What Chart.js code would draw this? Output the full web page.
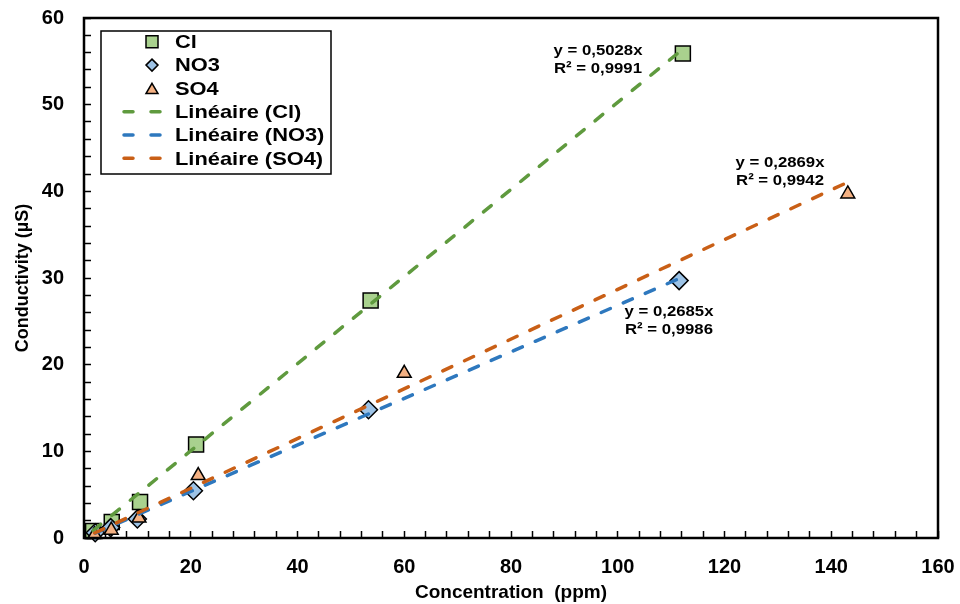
<!DOCTYPE html>
<html>
<head>
<meta charset="utf-8">
<script src="https://cdn.jsdelivr.net/npm/chart.js@4/dist/chart.umd.min.js"></script>
<style>
  html, body { margin: 0; padding: 0; background: #fff; }
</style>
</head>
<body>
<canvas id="conductivity" width="960" height="604"></canvas>
<script>
// measured points (ppm -> µS)
const clX  = [1.7, 5.2, 10.5, 21.0, 53.7, 112.2];
const clY  = [0.8, 1.85, 4.15, 10.8, 27.4, 55.9];
const no3X = [2.1, 5.0, 10.0, 20.5, 53.3, 111.5];
const no3Y = [0.6, 1.2, 2.2, 5.45, 14.8, 29.7];
const so4X = [2.0, 5.1, 10.3, 21.4, 60.0, 143.1];
const so4Y = [0.4, 0.9, 2.3, 7.2, 19.0, 39.7];

// linear trendlines through the origin, as printed on the chart
const seriesNames = ['Cl', 'NO3', 'SO4'];
const slopes = [0.5028, 0.2685, 0.2869];
const eqText = ['y = 0,5028x', 'y = 0,2685x', 'y = 0,2869x'];
const r2Text = ['R² = 0,9991', 'R² = 0,9986', 'R² = 0,9942'];

const FONT = "'Liberation Sans', Arial, sans-serif";
const fills = ['#A9D18E', '#9DC3E6', '#F4B183'];
const lineColors = ['#5F9A3E', '#2E78BE', '#C95F16'];
const markerStyles = ['rect', 'rectRot', 'triangle'];

function pts(xs, ys) {
  return xs.map((x, i) => ({ x: x, y: ys[i] }));
}

// later series sit on top, as in the original (lower order = drawn last)
function markerSet(i, xs, ys, radius) {
  return {
    label: seriesNames[i],
    data: pts(xs, ys),
    pointStyle: markerStyles[i],
    pointRadius: radius,
    pointHoverRadius: radius,
    backgroundColor: fills[i],
    borderColor: '#000',
    borderWidth: 1.5,
    clip: false,
    order: 7 - i
  };
}

function trendSet(i, xs, order) {
  const x0 = Math.min(...xs), x1 = Math.max(...xs);
  return {
    label: 'Linéaire (' + seriesNames[i] + ')',
    data: [{ x: x0, y: slopes[i] * x0 }, { x: x1, y: slopes[i] * x1 }],
    showLine: true,
    borderColor: lineColors[i],
    borderWidth: 3.5,
    borderDash: [10, 14],
    borderCapStyle: 'round',
    pointRadius: 0,
    pointHoverRadius: 0,
    fill: false,
    clip: false,
    order: order
  };
}

function shape(ctx, style, x, y, r) {
  ctx.beginPath();
  if (style === 'rect') {
    ctx.rect(x - r, y - r, 2 * r, 2 * r);
  } else if (style === 'rectRot') {
    ctx.moveTo(x, y - r); ctx.lineTo(x + r, y); ctx.lineTo(x, y + r); ctx.lineTo(x - r, y);
    ctx.closePath();
  } else {
    const h = r * 1.7;
    ctx.moveTo(x, y - h / 2); ctx.lineTo(x + r, y + h / 2); ctx.lineTo(x - r, y + h / 2);
    ctx.closePath();
  }
  ctx.fill();
  ctx.stroke();
}

// text drawn slightly widened, like the stretched labels of the original
function wideText(ctx, text, x, y, stretch) {
  ctx.save();
  ctx.translate(x, y);
  ctx.scale(stretch, 1);
  ctx.fillText(text, 0, 0);
  ctx.restore();
}

// ticks.padding is used to push labels away from the inward ticks,
// so stop it from also growing the outer padding of the chart area
function fixAxis(size) {
  return s => {
    if (s.isHorizontal()) s.height = size; else s.width = size;
    s.paddingTop = 0; s.paddingBottom = 0; s.paddingLeft = 0; s.paddingRight = 0;
  };
}

const extras = {
  id: 'extras',
  afterDatasetsDraw(chart) {
    const { ctx, chartArea: a } = chart;
    ctx.save();
    ctx.strokeStyle = '#000';
    ctx.lineWidth = 2.5;
    ctx.strokeRect(a.left, a.top, a.right - a.left, a.bottom - a.top);
    ctx.restore();
  },
  afterDraw(chart) {
    const ctx = chart.ctx;
    const sx = chart.scales.x, sy = chart.scales.y;

    // equation labels
    const eqPos = [[96.3, 56.2], [109.6, 26.1], [130.4, 43.3]];
    ctx.save();
    ctx.fillStyle = '#000';
    ctx.font = 'bold 15.5px ' + FONT;
    ctx.textAlign = 'center';
    ctx.textBaseline = 'middle';
    eqPos.forEach((p, i) => {
      const px = sx.getPixelForValue(p[0]);
      const py = sy.getPixelForValue(p[1]);
      wideText(ctx, eqText[i], px, py, 1.08);
      wideText(ctx, r2Text[i], px, py + 18, 1.08);
    });
    ctx.restore();

    // legend box
    const box = { left: 101, top: 31, width: 230, height: 143 };
    ctx.save();
    ctx.fillStyle = '#fff';
    ctx.fillRect(box.left, box.top, box.width, box.height);
    ctx.strokeStyle = '#000';
    ctx.lineWidth = 1.5;
    ctx.strokeRect(box.left, box.top, box.width, box.height);

    const rowY = i => 41.8 + i * 23.3;
    seriesNames.forEach((n, i) => {
      ctx.fillStyle = fills[i];
      ctx.strokeStyle = '#000';
      ctx.lineWidth = 1.5;
      shape(ctx, markerStyles[i], 152, rowY(i), 6);
    });
    seriesNames.forEach((n, i) => {
      ctx.strokeStyle = lineColors[i];
      ctx.lineWidth = 3.5;
      ctx.lineCap = 'round';
      ctx.setLineDash([9, 18]);
      ctx.beginPath();
      ctx.moveTo(124, rowY(i + 3));
      ctx.lineTo(161, rowY(i + 3));
      ctx.stroke();
    });
    ctx.setLineDash([]);
    ctx.fillStyle = '#000';
    ctx.font = 'bold 19px ' + FONT;
    ctx.textAlign = 'left';
    ctx.textBaseline = 'middle';
    const labels = seriesNames.concat(seriesNames.map(n => 'Linéaire (' + n + ')'));
    labels.forEach((t, i) => wideText(ctx, t, 175, rowY(i) + 1, 1.15));
    ctx.restore();
  }
};

const tickFont = { family: FONT, size: 20, weight: 'bold' };

new Chart(document.getElementById('conductivity'), {
  type: 'scatter',
  data: {
    datasets: [
      markerSet(0, clX, clY, 10.6),
      markerSet(1, no3X, no3Y, 9),
      markerSet(2, so4X, so4Y, 8),
      trendSet(0, clX, 2),
      trendSet(1, no3X, 1),
      trendSet(2, so4X, 0)
    ]
  },
  options: {
    responsive: false,
    devicePixelRatio: 1,
    animation: false,
    layout: { autoPadding: false, padding: { top: 18, right: 22, left: 0, bottom: 0 } },
    plugins: {
      legend: { display: false },
      tooltip: { enabled: false }
    },
    scales: {
      x: {
        type: 'linear',
        min: 0,
        max: 160,
        border: { display: false },
        grid: { drawOnChartArea: false, tickLength: -7, tickColor: '#000', tickWidth: 1.5 },
        ticks: {
          stepSize: 4,
          autoSkip: false,
          maxRotation: 0,
          padding: 24,
          color: '#000',
          font: tickFont,
          callback: v => (v % 20 === 0 ? v : '')
        },
        title: {
          display: true,
          text: 'Concentration  (ppm)',
          color: '#000',
          font: { family: FONT, size: 19, weight: 'bold' },
          padding: { top: 0, bottom: 0 }
        },
        afterFit: fixAxis(66)
      },
      y: {
        type: 'linear',
        min: 0,
        max: 60,
        border: { display: false },
        grid: { drawOnChartArea: false, tickLength: -7, tickColor: '#000', tickWidth: 1.5 },
        ticks: {
          stepSize: 2,
          autoSkip: false,
          padding: 27,
          color: '#000',
          font: tickFont,
          callback: v => (v % 10 === 0 ? v : '')
        },
        title: {
          display: true,
          text: 'Conductivity (µS)',
          color: '#000',
          font: { family: FONT, size: 18, weight: 'bold' },
          padding: { top: 12, bottom: 0 }
        },
        afterFit: fixAxis(84)
      }
    }
  },
  plugins: [extras]
});
</script>
</body>
</html>
